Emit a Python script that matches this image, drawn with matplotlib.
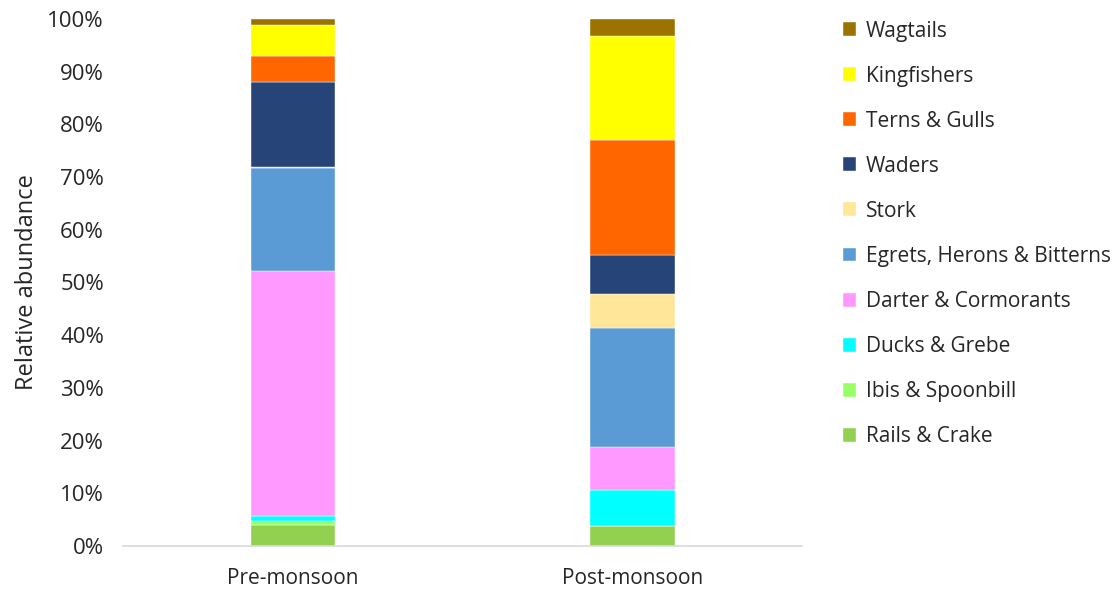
import matplotlib
matplotlib.use("Agg")
import matplotlib.pyplot as plt
import numpy as np

seasons = ["Pre-monsoon", "Post-monsoon"]
groups = ["Rails & Crake", "Ibis & Spoonbill", "Ducks & Grebe", "Darter & Cormorants",
          "Egrets, Herons & Bitterns", "Stork", "Waders", "Terns & Gulls",
          "Kingfishers", "Wagtails"]
# relative abundance (%) per group, [pre, post]
rails = [4.0, 3.7]
ibis = [0.8, 0.0]
ducks = [0.8, 6.9]
darter = [46.6, 8.1]
egrets = [19.5, 22.6]
stork = [0.2, 6.5]
waders = [16.2, 7.4]
terns = [4.9, 21.8]
kingfishers = [5.8, 19.7]
wagtails = [1.2, 3.3]

colors = ["#92D050", "#99FF66", "#00FFFF", "#FF99FF", "#5B9BD5",
          "#FFE699", "#264478", "#FF6600", "#FFFF00", "#9C7200"]

plt.rcParams["font.family"] = ["Open Sans", "DejaVu Sans"]
txt = "#262626"

fig = plt.figure(figsize=(11.12, 5.89), dpi=100)
ax = fig.add_axes([0.111, 0.073, 0.61, 0.895])

series = [rails, ibis, ducks, darter, egrets, stork, waders, terns, kingfishers, wagtails]
x = np.arange(len(seasons))
bottom = np.zeros(len(seasons))
handles = []
for name, vals, c in zip(groups, series, colors):
    b = ax.bar(x, vals, 0.25, bottom=bottom, color=c, label=name,
               edgecolor="white", linewidth=0.3)
    handles.append(b)
    bottom += np.array(vals)

ax.set_xlim(-0.5, 1.5)
ax.set_ylim(0, 100)
ax.set_yticks(np.arange(0, 101, 10))
ax.set_yticklabels([f"{v}%" for v in range(0, 101, 10)], fontsize=16, color=txt)
ax.set_xticks(x)
ax.set_xticklabels(seasons, fontsize=15, color=txt)
ax.tick_params(length=0)
ax.tick_params(axis="y", pad=14)
ax.tick_params(axis="x", pad=16)
for s in ["top", "right", "left"]:
    ax.spines[s].set_visible(False)
ax.spines["bottom"].set_color("#d9d9d9")
ax.spines["bottom"].set_linewidth(1.2)
ax.set_ylabel("Relative abundance", fontsize=17, labelpad=6, color=txt)

fig.legend(handles[::-1], groups[::-1], loc="upper left",
           bbox_to_anchor=(0.741, 0.997), frameon=False, fontsize=15,
           labelspacing=1.155, handlelength=0.65, handleheight=0.65,
           handletextpad=0.45, labelcolor=txt)

fig.savefig("out.png", dpi=100)
